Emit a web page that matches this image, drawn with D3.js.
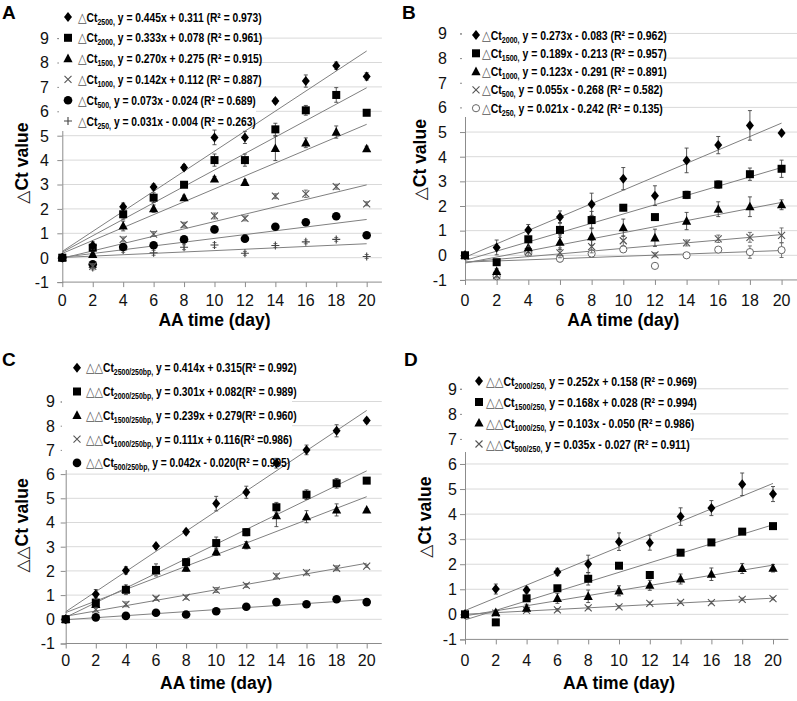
<!DOCTYPE html>
<html><head><meta charset="utf-8">
<script src="https://cdn.jsdelivr.net/npm/d3@7"></script>
<style>body{margin:0;background:#fff}svg{display:block}</style>
</head><body>
<svg id="chart" width="797" height="701"></svg>
<script>
// ---------- DATA ----------
const days = [0,2,4,6,8,10,12,14,16,18,20];
const xTickLabels = [0,2,4,6,8,10,12,14,16,18,20];
const yTickLabels = [-1,0,1,2,3,4,5,6,7,8,9];

// Panel A (ΔCt)
const A_subs = ["2500","2000","1500","1000","500","250"];
const A_eqs = ["y = 0.445x + 0.311 (R² = 0.973)","y = 0.333x + 0.078 (R² = 0.961)","y = 0.270x + 0.275 (R² = 0.915)","y = 0.142x + 0.112 (R² = 0.887)","y = 0.073x - 0.024 (R² = 0.689)","y = 0.031x - 0.004 (R² = 0.263)"];
const A_ct2500 = [0,0.5,2.09,2.9,3.7,4.93,4.93,6.42,7.24,7.87,7.43];
const A_ct2000 = [0,0.41,1.78,2.46,2.99,4.0,4.0,5.26,6.04,6.67,5.94];
const A_ct1500 = [0,0.14,1.3,2.01,2.46,3.23,3.09,4.48,4.71,5.15,4.47];
const A_ct1000 = [0,-0.35,0.75,0.97,1.35,1.71,1.61,2.52,2.62,2.91,2.21];
const A_ct500  = [0,-0.27,0.44,0.51,0.75,1.16,0.78,1.27,1.45,1.7,0.92];
const A_ct250  = [0,-0.4,0.32,0.2,0.43,0.52,0.18,0.5,0.65,0.75,0.05];
const A_e2500 = [0,0.15,0.15,0.12,0.12,0.3,0.25,0.1,0.25,0.15,0.15];
const A_e2000 = [0,0.15,0.2,0.2,0.1,0.25,0.25,0.25,0.2,0.3,0.1];
const A_e1500 = [0,0.1,0.2,0.15,0.1,0.1,0.1,0.5,0.2,0.25,0.1];
const A_e1000 = [0,0.1,0.1,0.1,0.1,0.12,0.1,0.1,0.15,0.1,0.08];
const A_e500  = [0,0.1,0.08,0.08,0.08,0.08,0.08,0.08,0.08,0.08,0.08];
const A_e250  = [0,0.1,0.1,0.1,0.1,0.1,0.08,0.08,0.08,0.08,0.08];

// Panel B (ΔCt)
const B_subs = ["2000","1500","1000","500","250"];
const B_eqs = ["y = 0.273x - 0.083 (R² = 0.962)","y = 0.189x - 0.213 (R² = 0.957)","y = 0.123x - 0.291 (R² = 0.891)","y = 0.055x - 0.268 (R² = 0.582)","y = 0.021x - 0.242 (R² = 0.135)"];
const B_ct2000 = [0,0.32,1.03,1.55,2.07,3.11,2.42,3.85,4.47,5.27,4.96];
const B_ct1500 = [0,-0.28,0.65,1.03,1.43,1.93,1.55,2.45,2.87,3.29,3.51];
const B_ct1000 = [0,-0.65,0.31,0.53,0.76,1.12,0.71,1.39,1.87,1.97,2.05];
const B_ct500  = [0,-0.82,0.15,0.1,0.35,0.59,0.02,0.5,0.67,0.73,0.81];
const B_ct250  = [0,-0.85,0.09,-0.14,0.07,0.24,-0.43,0,0.23,0.13,0.21];
const B_e2000 = [0,0.3,0.22,0.25,0.45,0.45,0.4,0.5,0.35,0.6,0.05];
const B_e1500 = [0,0.1,0.3,0.3,0.35,0.12,0.08,0.15,0.15,0.25,0.35];
const B_e1000 = [0,0.1,0.2,0.3,0.35,0.35,0.35,0.35,0.3,0.4,0.2];
const B_e500  = [0,0.1,0.15,0.2,0.25,0.2,0.08,0.12,0.15,0.2,0.3];
const B_e250  = [0,0.1,0.12,0.12,0.15,0.1,0.08,0.08,0.08,0.25,0.3];

// Panel C (ΔΔCt, /250bp)
const C_subs = ["2500/250bp,","2000/250bp,","1500/250bp,","1000/250bp,","500/250bp,"];
const C_eqs = ["y = 0.414x + 0.315(R² = 0.992)","y = 0.301x + 0.082(R² = 0.989)","y = 0.239x + 0.279(R² = 0.960)","y = 0.111x + 0.116(R² =0.986)","y = 0.042x - 0.020(R² = 0.905)"];
const C_d2500 = [0,1.03,2.02,3.03,3.62,4.78,5.25,6.45,7.0,7.79,8.21];
const C_d2000 = [0,0.69,1.22,2.04,2.36,3.15,3.6,4.63,5.15,5.62,5.73];
const C_d1500 = [0,0.62,1.25,2.0,2.11,2.79,3.06,4.28,4.24,4.52,4.52];
const C_d1000 = [0,0.4,0.62,0.87,0.91,1.21,1.4,1.78,1.93,2.11,2.2];
const C_d500  = [0,0.08,0.14,0.27,0.2,0.33,0.52,0.71,0.62,0.83,0.71];
const C_e2500 = [0,0.2,0.15,0.1,0.1,0.3,0.25,0.2,0.2,0.25,0.1];
const C_e2000 = [0,0.2,0.2,0.25,0.15,0.25,0.15,0.2,0.2,0.2,0.05];
const C_e1500 = [0,0.1,0.1,0.1,0.12,0.15,0.15,0.45,0.25,0.25,0.05];
const C_e1000 = [0,0.1,0.1,0.08,0.08,0.1,0.08,0.1,0.1,0.1,0.05];
const C_e500  = [0,0.05,0.05,0.05,0.05,0.05,0.05,0.05,0.05,0.05,0.05];

// Panel D (ΔΔCt, /250)
const D_subs = ["2000/250,","1500/250,","1000/250,","500/250,"];
const D_eqs = ["y = 0.252x + 0.158 (R² = 0.969)","y = 0.168x + 0.028 (R² = 0.994)","y = 0.103x - 0.050 (R² = 0.986)"," y = 0.035x - 0.027 (R² = 0.911)"];
const D_d2000 = [0,1.01,0.97,1.69,2.01,2.9,2.86,3.9,4.24,5.19,4.8];
const D_d1500 = [0,-0.32,0.64,1.04,1.42,1.94,1.57,2.46,2.87,3.3,3.52];
const D_d1000 = [0,0.07,0.25,0.64,0.72,0.94,1.16,1.41,1.6,1.83,1.84];
const D_d500  = [0,0.05,0.16,0.18,0.26,0.3,0.44,0.48,0.47,0.6,0.63];
const D_e2000 = [0,0.2,0.12,0.15,0.35,0.35,0.3,0.35,0.3,0.45,0.3];
const D_e1500 = [0,0.05,0.08,0.08,0.25,0.08,0.08,0.05,0.08,0.08,0.08];
const D_e1000 = [0,0.1,0.15,0.2,0.25,0.2,0.2,0.2,0.25,0.2,0.15];
const D_e500  = [0,0.05,0.05,0.05,0.05,0.05,0.05,0.05,0.05,0.05,0.05];

// ---------- PANELS (layout) ----------
const panels = [
 {letter:"A", lx:2, ly:19, prefix:"△", ytitle:"△", x0:62.3, x1:381.9, yb:282.1, yt:38.1, ylabR:49, ytx:22, xlabY:306, xtitleY:326,
  legX:68, legTextX:78, legY0:17, legDy:20.8, legW:184, legRect:[59,6,197,125],
  markers:["diamond","square","triangle","cross","circle","plus"], subs:A_subs, eqs:A_eqs,
  vals:[A_ct2500,A_ct2000,A_ct1500,A_ct1000,A_ct500,A_ct250], errs:[A_e2500,A_e2000,A_e1500,A_e1000,A_e500,A_e250]},
 {letter:"B", lx:402, ly:19, prefix:"△", ytitle:"△", x0:465, x1:797.4, yb:279.95, yt:33.45, ylabR:447, ytx:420, xlabY:306, xtitleY:326,
  legX:476, legTextX:482, legY0:35, legDy:18.3, legW:185, legRect:[462,25,198,92],
  markers:["diamond","square","triangle","cross","ocircle"], subs:B_subs, eqs:B_eqs,
  vals:[B_ct2000,B_ct1500,B_ct1000,B_ct500,B_ct250], errs:[B_e2000,B_e1500,B_e1000,B_e500,B_e250]},
 {letter:"C", lx:2, ly:366, prefix:"△△", ytitle:"△△", x0:65.7, x1:381.75, yb:643.5, yt:401.5, ylabR:55, ytx:22, xlabY:666, xtitleY:689,
  legX:77, legTextX:86, legY0:367.7, legDy:23.8, legW:211, legRect:[62,356,230,114],
  markers:["diamond","square","triangle","cross","circle"], subs:C_subs, eqs:C_eqs,
  vals:[C_d2500,C_d2000,C_d1500,C_d1000,C_d500], errs:[C_e2500,C_e2000,C_e1500,C_e1000,C_e500]},
 {letter:"D", lx:404, ly:366, prefix:"△△", ytitle:"△", x0:465, x1:788.4, yb:639.4, yt:388.8, ylabR:457, ytx:425, xlabY:666, xtitleY:689,
  legX:479, legTextX:486, legY0:381, legDy:21, legW:211, legRect:[462,371,228,81],
  markers:["diamond","square","triangle","cross"], subs:D_subs, eqs:D_eqs,
  vals:[D_d2000,D_d1500,D_d1000,D_d500], errs:[D_e2000,D_e1500,D_e1000,D_e500]}
];

const svg = d3.select("#chart");
const FONT = "'Liberation Sans', Arial, sans-serif";
const SYM = "'DejaVu Sans', sans-serif";

function marker(g, type, x, y){
  switch(type){
    case "diamond": g.append("path").attr("d",`M${x},${y-5}L${x+4},${y}L${x},${y+5}L${x-4},${y}Z`).attr("fill","#000"); break;
    case "square": g.append("rect").attr("x",x-4).attr("y",y-4).attr("width",8).attr("height",8).attr("fill","#000"); break;
    case "triangle": g.append("path").attr("d",`M${x},${y-5}L${x+4.6},${y+3.6}L${x-4.6},${y+3.6}Z`).attr("fill","#000"); break;
    case "circle": g.append("circle").attr("cx",x).attr("cy",y).attr("r",4.3).attr("fill","#000"); break;
    case "cross": g.append("path").attr("d",`M${x-3.5},${y-3.5}L${x+3.5},${y+3.5}M${x+3.5},${y-3.5}L${x-3.5},${y+3.5}`).attr("stroke","#555").attr("stroke-width",1.1).attr("fill","none"); break;
    case "plus": g.append("path").attr("d",`M${x-4},${y}L${x+4},${y}M${x},${y-4}L${x},${y+4}`).attr("stroke","#444").attr("stroke-width",1.1).attr("fill","none"); break;
    case "ocircle": g.append("circle").attr("cx",x).attr("cy",y).attr("r",3.6).attr("fill","#fff").attr("stroke","#666").attr("stroke-width",1); break;
  }
}

function regression(xs, ys){
  const mx = d3.mean(xs), my = d3.mean(ys);
  let sxy=0, sxx=0;
  xs.forEach((x,i)=>{sxy+=(x-mx)*(ys[i]-my); sxx+=(x-mx)*(x-mx);});
  const b = sxy/sxx; return {b, a: my-b*mx};
}

panels.forEach(p=>{
  const g = svg.append("g");
  const x = d3.scaleLinear().domain([0,21]).range([p.x0,p.x1]);
  const y = d3.scaleLinear().domain([-1,9]).range([p.yb,p.yt]);

  // gridlines
  g.append("g").selectAll("line").data(yTickLabels.filter(v=>v>-1)).join("line")
    .attr("x1",x(0)).attr("x2",x(21)).attr("y1",d=>y(d)).attr("y2",d=>y(d))
    .attr("stroke","#d9d9d9").attr("stroke-width",1);

  // x axis at y=-1
  const xAxis = d3.axisBottom(x).tickValues(xTickLabels).tickSize(5).tickFormat("");
  const xa = g.append("g").attr("transform",`translate(0,${y(-1)})`).call(xAxis);
  xa.selectAll("path,line").attr("stroke","#8c8c8c");
  xa.select(".domain").attr("d",`M${x(0)},0H${x(21)}`);
  // y axis at x=0
  const yAxis = d3.axisLeft(y).tickValues(yTickLabels).tickSize(5).tickFormat("");
  const ya = g.append("g").attr("transform",`translate(${x(0)},0)`).call(yAxis);
  ya.selectAll("path,line").attr("stroke","#8c8c8c");

  // legend background
  g.append("rect").attr("x",p.legRect[0]).attr("y",p.legRect[1]).attr("width",p.legRect[2]).attr("height",p.legRect[3]).attr("fill","#fff");

  // tick labels
  g.append("g").selectAll("text").data(xTickLabels).join("text")
    .attr("x",d=>x(d)).attr("y",p.xlabY).attr("text-anchor","middle")
    .attr("font-family",FONT).attr("font-size",16).attr("fill","#111").text(d=>d);
  g.append("g").selectAll("text").data(yTickLabels).join("text")
    .attr("x",p.ylabR).attr("y",d=>y(d)+5.8).attr("text-anchor","end")
    .attr("font-family",FONT).attr("font-size",16).attr("fill","#111").text(d=>d);

  // axis titles
  g.append("text").attr("x",(x(0)+x(20))/2).attr("y",p.xtitleY).attr("text-anchor","middle")
    .attr("font-family",FONT).attr("font-size",17.5).attr("font-weight","bold").text("AA time (day)");
  const yt = g.append("text").attr("transform",`translate(${p.ytx+6},${(y(-1)+y(9))/2 + 3}) rotate(-90)`)
    .attr("text-anchor","middle").attr("font-family",FONT).attr("font-size",17.5).attr("font-weight","bold");
  yt.append("tspan").attr("font-family",SYM).attr("font-size",17).attr("font-weight","normal").attr("fill","#222").text(p.ytitle);
  yt.append("tspan").text("Ct value");

  // panel letter
  g.append("text").attr("x",p.lx).attr("y",p.ly).attr("font-family",FONT).attr("font-size",19).attr("font-weight","bold").text(p.letter);

  // trend lines (least squares through plotted data)
  p.vals.forEach(vs=>{
    const r = regression(days, vs);
    g.append("line").attr("x1",x(0)).attr("y1",y(r.a)).attr("x2",x(20)).attr("y2",y(r.a+r.b*20))
      .attr("stroke","#808080").attr("stroke-width",1);
  });

  // error bars + markers
  for(let s=p.vals.length-1; s>=0; s--){
    const vs = p.vals[s], es = p.errs[s];
    const col = (p.markers[s]==="cross"||p.markers[s]==="plus"||p.markers[s]==="ocircle") ? "#666" : "#444";
    days.forEach((d,i)=>{
      if(es[i]>0){
        const cx=x(d), y1=y(vs[i]-es[i]), y2=y(vs[i]+es[i]);
        g.append("path").attr("d",`M${cx},${y1}V${y2}M${cx-2},${y1}H${cx+2}M${cx-2},${y2}H${cx+2}`)
          .attr("stroke",col).attr("stroke-width",0.9).attr("fill","none");
      }
    });
    days.forEach((d,i)=>marker(g,p.markers[s],x(d),y(vs[i])));
  }

  // legend
  let scale = null;
  p.subs.forEach((sub,i)=>{
    const cy = p.legY0 + i*p.legDy;
    marker(g, p.markers[i], p.legX, cy);
    const t = g.append("text").attr("x",0).attr("y",0)
      .attr("font-family",FONT).attr("font-size",12.5).attr("font-weight","bold").attr("fill","#000");
    t.append("tspan").attr("font-family",SYM).attr("font-size",13.5).attr("font-weight","normal").attr("fill","#555").text(p.prefix);
    t.append("tspan").text("Ct");
    t.append("tspan").attr("font-size",8.5).attr("dy",3).text(sub + (sub.endsWith(",")?"":","));
    t.append("tspan").attr("dy",-3).text(" " + p.eqs[i].trim());
    const w = t.node().getComputedTextLength();
    if(scale===null) scale = p.legW / w;
    t.attr("transform",`translate(${p.legTextX},${cy+4.5}) scale(${scale},1)`);
  });
});
</script>
</body></html>
